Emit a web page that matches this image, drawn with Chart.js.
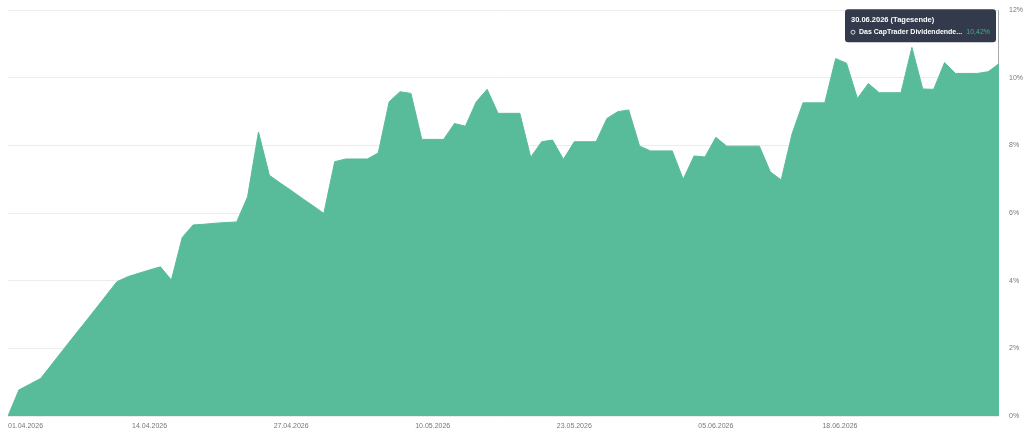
<!DOCTYPE html>
<html>
<head>
<meta charset="utf-8">
<script src="https://cdn.jsdelivr.net/npm/chart.js@4.4.1/dist/chart.umd.min.js"></script>
<style>
  html, body { margin: 0; padding: 0; background: #fff; }
  #wrap { width: 1024px; height: 437px; }
</style>
</head>
<body>
<div id="wrap"><canvas id="perfChart" width="1024" height="437"></canvas></div>
<script>
// Performance in %, one end-of-day value per calendar day, starting 31.03.2026 (base 0)
const seriesName = 'Das CapTrader Dividendende...';
const values = [
  0.00, 0.77, 0.94, 1.11, 1.52, 1.93, 2.34, 2.74, 3.15, 3.56,
  3.97, 4.12, 4.22, 4.32, 4.41, 4.02, 5.28, 5.65, 5.67, 5.70,
  5.72, 5.74, 6.48, 8.40, 7.12, 6.89, 6.67, 6.44, 6.22, 5.99,
  7.52, 7.60, 7.60, 7.60, 7.78, 9.29, 9.59, 9.54, 8.18, 8.18,
  8.18, 8.65, 8.57, 9.29, 9.66, 8.95, 8.95, 8.95, 7.65, 8.11,
  8.16, 7.59, 8.11, 8.11, 8.11, 8.80, 9.00, 9.05, 7.98, 7.84,
  7.84, 7.84, 7.00, 7.69, 7.66, 8.24, 7.98, 7.98, 7.98, 7.98,
  7.22, 6.98, 8.35, 9.26, 9.26, 9.26, 10.57, 10.43, 9.39, 9.83,
  9.56, 9.56, 9.56, 10.90, 9.67, 9.66, 10.45, 10.13, 10.13, 10.13,
  10.18, 10.42
];
const tickDates = ['01.04.2026', '14.04.2026', '27.04.2026', '10.05.2026', '23.05.2026', '05.06.2026', '18.06.2026'];
const yTicks = [0, 2, 4, 6, 8, 10, 12];

const green = 'rgb(88, 188, 154)';

function buildDates(n) {
  const out = [];
  for (let i = 0; i < n; i++) {
    const d = new Date(Date.UTC(2026, 2, 31 + i));
    out.push(String(d.getUTCDate()).padStart(2, '0') + '.' +
             String(d.getUTCMonth() + 1).padStart(2, '0') + '.' + d.getUTCFullYear());
  }
  return out;
}
const dates = buildDates(values.length);

function fmtPct(v) {
  return v.toFixed(2).replace('.', ',') + '%';
}

// hover line + tooltip box pinned to the last point
const hoverBox = {
  id: 'hoverBox',
  beforeDatasetsDraw(chart) {
    const meta = chart.getDatasetMeta(0);
    const pt = meta.data[meta.data.length - 1];
    const ctx = chart.ctx;
    const x = Math.round(pt.x) - 0.5;
    ctx.save();
    ctx.strokeStyle = '#a5a9ae';
    ctx.lineWidth = 1;
    ctx.beginPath();
    ctx.moveTo(x, chart.chartArea.top);
    ctx.lineTo(x, chart.chartArea.bottom);
    ctx.stroke();
    ctx.restore();
  },
  afterDraw(chart) {
    const meta = chart.getDatasetMeta(0);
    const last = meta.data.length - 1;
    const pt = meta.data[last];
    const ctx = chart.ctx;
    const w = 151, h = 33;
    const bx = Math.round(pt.x) - 3 - w;
    const by = chart.chartArea.top - 1;

    ctx.save();
    ctx.fillStyle = 'rgb(50, 58, 75)';
    ctx.beginPath();
    ctx.roundRect(bx, by, w, h, 3);
    ctx.fill();

    ctx.textBaseline = 'middle';
    ctx.fillStyle = '#ffffff';
    ctx.font = 'bold 7.5px "Liberation Sans", Arial, sans-serif';
    ctx.textAlign = 'left';
    ctx.fillText(dates[last] + ' (Tagesende)', bx + 6, by + 11);

    // hollow marker
    ctx.strokeStyle = '#d8dbe0';
    ctx.lineWidth = 1;
    ctx.beginPath();
    ctx.arc(bx + 8, by + 23, 2, 0, Math.PI * 2);
    ctx.stroke();

    ctx.font = 'bold 7px "Liberation Sans", Arial, sans-serif';
    ctx.fillText(seriesName, bx + 14, by + 23);

    ctx.fillStyle = 'rgb(62, 178, 136)';
    ctx.textAlign = 'right';
    ctx.font = '7px "Liberation Sans", Arial, sans-serif';
    ctx.fillText(fmtPct(values[last]), bx + w - 6, by + 23);
    ctx.restore();
  }
};

const ctx = document.getElementById('perfChart').getContext('2d');
new Chart(ctx, {
  type: 'line',
  data: {
    labels: dates,
    datasets: [{
      label: seriesName,
      data: values,
      fill: 'origin',
      backgroundColor: green,
      borderColor: green,
      borderWidth: 1,
      pointRadius: 0,
      pointHoverRadius: 0,
      pointBorderWidth: 0,
      tension: 0
    }]
  },
  options: {
    responsive: false,
    devicePixelRatio: 1,
    animation: false,
    events: [],
    layout: { autoPadding: false, padding: { left: 8, top: 2, right: 0, bottom: 0 } },
    scales: {
      x: {
        type: 'category',
        grid: { display: false, drawTicks: false },
        border: { display: false },
        ticks: {
          autoSkip: false,
          maxRotation: 0,
          minRotation: 0,
          align: 'inner',
          padding: 6,
          color: '#777',
          font: { size: 7, family: '"Liberation Sans", Arial, sans-serif' },
          // values are end-of-day, so the day boundary of a date sits on the previous point
          callback: function(val, index) {
            const next = dates[index + 1];
            return tickDates.includes(next) ? next : null;
          }
        },
        afterFit(scale) { scale.height = 21; }
      },
      y: {
        position: 'right',
        min: 0,
        max: 12,
        afterBuildTicks(scale) { scale.ticks = yTicks.map(v => ({ value: v })); },
        grid: { color: '#ececec', drawTicks: true, tickLength: 4, tickColor: 'rgba(0,0,0,0)' },
        border: { display: false },
        ticks: {
          padding: 6,
          color: '#777',
          font: { size: 7, family: '"Liberation Sans", Arial, sans-serif' },
          callback: v => v + '%'
        },
        afterFit(scale) { scale.width = 25; }
      }
    },
    plugins: {
      legend: { display: false },
      tooltip: { enabled: false }
    }
  },
  plugins: [hoverBox]
});
</script>
</body>
</html>
